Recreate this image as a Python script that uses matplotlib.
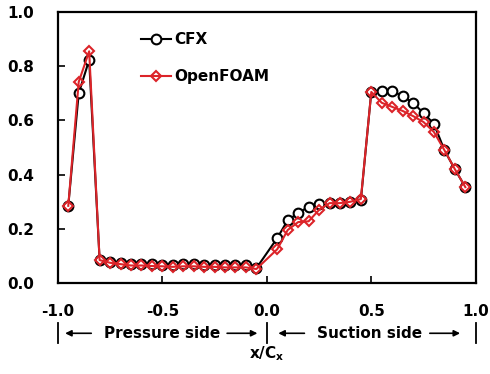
import matplotlib
matplotlib.use("Agg")
import matplotlib.pyplot as plt

plt.rcParams['font.family'] = 'DejaVu Sans'
plt.rcParams['font.weight'] = 'bold'
plt.rcParams['axes.unicode_minus'] = False

# surface positions, pressure side then suction side
x_pressure = [-0.95, -0.90, -0.85, -0.80, -0.75, -0.70, -0.65, -0.60, -0.55, -0.50,
              -0.45, -0.40, -0.35, -0.30, -0.25, -0.20, -0.15, -0.10, -0.05]
x_suction = [0.05, 0.10, 0.15, 0.20, 0.25, 0.30, 0.35, 0.40, 0.45, 0.50,
             0.55, 0.60, 0.65, 0.70, 0.75, 0.80, 0.85, 0.90, 0.95]

cfx_pressure = [0.285, 0.700, 0.823, 0.085, 0.078, 0.075, 0.072, 0.070, 0.070, 0.068,
                0.068, 0.070, 0.070, 0.068, 0.068, 0.068, 0.068, 0.068, 0.055]
cfx_suction = [0.166, 0.232, 0.258, 0.282, 0.290, 0.295, 0.295, 0.300, 0.306, 0.705,
               0.708, 0.708, 0.690, 0.665, 0.627, 0.587, 0.490, 0.420, 0.354]

of_pressure = [0.285, 0.742, 0.855, 0.085, 0.075, 0.070, 0.065, 0.065, 0.063, 0.062,
               0.060, 0.062, 0.062, 0.060, 0.060, 0.058, 0.058, 0.058, 0.052]
of_suction = [0.125, 0.196, 0.225, 0.228, 0.270, 0.295, 0.295, 0.300, 0.310, 0.705,
              0.665, 0.650, 0.635, 0.616, 0.594, 0.557, 0.490, 0.420, 0.354]

x_all = x_pressure + x_suction
red = '#dc2429'

fig = plt.figure(figsize=(4.9, 3.74), dpi=100)
ax = fig.add_axes([0.118, 0.243, 0.853, 0.725])

ax.plot(x_all, cfx_pressure + cfx_suction, color='black', lw=1.5, marker='o', ms=7,
        mfc='white', mec='black', mew=1.5, label='CFX')
ax.plot(x_all, of_pressure + of_suction, color=red, lw=1.5, marker='D', ms=5.5,
        mfc='none', mec=red, mew=1.5, label='OpenFOAM')

ax.set_xlim(-1.0, 1.0)
ax.set_ylim(0.0, 1.0)
ax.set_xticks([-1.0, -0.5, 0.0, 0.5, 1.0])
ax.set_yticks([0.0, 0.2, 0.4, 0.6, 0.8, 1.0])
ax.set_xticklabels(['-1.0', '-0.5', '0.0', '0.5', '1.0'])
ax.set_yticklabels(['0.0', '0.2', '0.4', '0.6', '0.8', '1.0'])
ax.tick_params(axis='x', direction='in', length=5, width=1.2, labelsize=11, pad=15)
ax.tick_params(axis='y', direction='in', length=5, width=1.2, labelsize=11, pad=17)
for lab in ax.get_xticklabels() + ax.get_yticklabels():
    lab.set_fontweight('bold')
for sp in ax.spines.values():
    sp.set_linewidth(1.6)

ax.legend(loc='upper left', bbox_to_anchor=(0.165, 0.977), frameon=False,
          prop={'size': 11, 'weight': 'bold'}, handlelength=2.0, handletextpad=0.2,
          labelspacing=1.45)

# side annotation under the axis
tr = ax.get_xaxis_transform()
row_y = -0.185
for xb in [-1.0, 0.0, 1.0]:
    ax.plot([xb, xb], [-0.148, -0.222], color='black', lw=1.3, transform=tr, clip_on=False)

arrows = [(-0.84, -0.965), (-0.19, -0.045), (0.18, 0.055), (0.78, 0.925)]
for x0, x1 in arrows:
    ax.annotate('', xy=(x1, row_y), xytext=(x0, row_y), xycoords=tr, textcoords=tr,
                annotation_clip=False,
                arrowprops=dict(arrowstyle='-|>', lw=1.2, color='black',
                                mutation_scale=9, shrinkA=0, shrinkB=0))
ax.text(-0.5, row_y, 'Pressure side', transform=tr, ha='center', va='center',
        fontsize=11, fontweight='bold')
ax.text(0.49, row_y, 'Suction side', transform=tr, ha='center', va='center',
        fontsize=11, fontweight='bold')
ax.text(0.0, -0.26, r'x/C$_\mathbf{x}$', transform=tr, ha='center', va='center',
        fontsize=11, fontweight='bold')

fig.savefig('out.png', dpi=100)
